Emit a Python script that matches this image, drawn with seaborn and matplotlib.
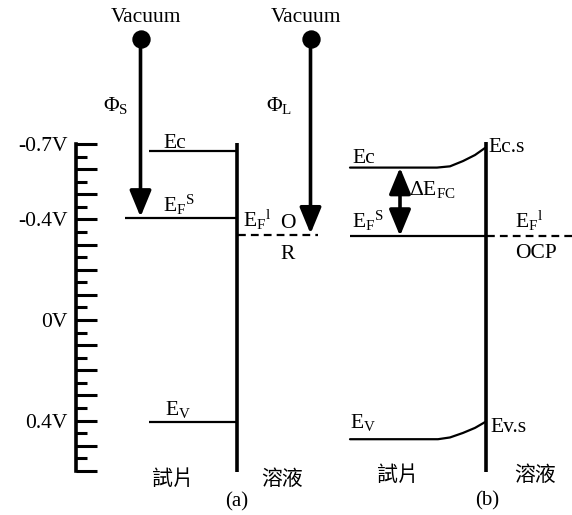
import numpy as np
import pandas as pd
import seaborn as sns
import matplotlib.pyplot as plt

sns.set_style('white', rc={'axes.edgecolor': 'black', 'text.color': 'black',
                           'ytick.color': 'black', 'xtick.color': 'black'})
plt.rcParams['font.family'] = ['Liberation Serif', 'Noto Sans CJK TC', 'DejaVu Sans']
plt.rcParams['mathtext.fontset'] = 'custom'
plt.rcParams['mathtext.rm'] = 'Liberation Serif'
plt.rcParams['mathtext.it'] = 'Liberation Serif:italic'
plt.rcParams['mathtext.bf'] = 'Liberation Serif:bold'

# potential ruler (V)
major_ticks = [-0.7, -0.6, -0.5, -0.4, -0.3, -0.2, -0.1, 0.0, 0.1, 0.2, 0.3, 0.4, 0.5, 0.6]
minor_ticks = [-0.65, -0.55, -0.45, -0.35, -0.25, -0.15, -0.05,
               0.05, 0.15, 0.25, 0.35, 0.45, 0.55]
tick_text = ['-0.7V', '', '', '-0.4V', '', '', '', '0V', '', '', '', '0.4V', '', '']

# panel (a) levels (V)
vacuum_a = -1.116
ec_a = -0.673
efs_a = -0.405
efl_a = -0.338
ev_a = 0.406
electrode_a = [-0.704, 0.604]

ec_b_x = [350, 437, 450, 463, 475, 485]
ec_b_v = [-0.606, -0.606, -0.611, -0.632, -0.656, -0.684]
ev_b_x = [350, 438, 450, 463, 475, 485]
ev_b_v = [0.474, 0.474, 0.467, 0.449, 0.429, 0.406]
efs_b = -0.334
electrode_b = [-0.708, 0.604]


def py(y):
    # label placement helper: picture row -> volts
    return (y - 320) / 251.5


fig = plt.figure(figsize=(5.72, 5.15), dpi=100)
ax = fig.add_axes([0, 0, 1, 1])
ax.set_xlim(0, 572)
ax.set_ylim(py(515), py(0))

# ruler as the y axis
for s in ['top', 'right', 'bottom']:
    ax.spines[s].set_visible(False)
ax.spines['left'].set_position(('data', 76))
ax.spines['left'].set_bounds(major_ticks[0], major_ticks[-1])
ax.spines['left'].set_linewidth(2.6)
ax.set_xticks([])
ax.set_yticks(major_ticks)
ax.set_yticklabels(tick_text)
ax.set_yticks(minor_ticks, minor=True)
ax.tick_params(axis='y', which='major', left=True, direction='in', length=15,
               width=2.2, pad=6, labelsize=15.5)
ax.tick_params(axis='y', which='minor', left=True, direction='in', length=8, width=2.2)

lw = 1.6
k = 'black'

# panel (a)
ax.vlines(236.5, electrode_a[0], electrode_a[1], color=k, lw=2.6)
ax.hlines(ec_a, 149, 236.5, color=k, lw=lw)
ax.hlines(efs_a, 125, 236.5, color=k, lw=lw)
ax.hlines(ev_a, 149, 236.5, color=k, lw=lw)
ax.hlines(efl_a, 238, 318, color=k, lw=lw, linestyles=(0, (3.5, 2.3)))

# panel (b)
ax.vlines(485.5, electrode_b[0], electrode_b[1], color=k, lw=2.6)
sns.lineplot(x=ec_b_x, y=ec_b_v, color=k, lw=lw, ax=ax, sort=False)
sns.lineplot(x=ev_b_x, y=ev_b_v, color=k, lw=lw, ax=ax, sort=False)
ax.hlines(efs_b, 350, 485.5, color=k, lw=lw)
ax.hlines(efs_b, 487, 572, color=k, lw=lw, linestyles=(0, (3.5, 2.3)))

# vacuum dots and work function arrows
sns.scatterplot(x=[140.5, 310.5], y=[vacuum_a, vacuum_a], s=175, color=k,
                edgecolor=k, linewidth=0, ax=ax, zorder=5)
arrow = dict(arrowstyle='-|>,head_length=0.8,head_width=0.33', lw=2.6, color=k,
             mutation_scale=20, shrinkA=0, shrinkB=0)
ax.annotate('', xy=(140.5, efs_a - 0.005), xytext=(140.5, vacuum_a), arrowprops=arrow)
ax.annotate('', xy=(310.5, efl_a - 0.005), xytext=(310.5, vacuum_a), arrowprops=arrow)
darrow = dict(arrowstyle='<|-|>,head_length=0.8,head_width=0.33', lw=2.6, color=k,
              mutation_scale=20, shrinkA=0, shrinkB=0)
ax.annotate('', xy=(400, efs_b), xytext=(400, ec_b_v[0]), arrowprops=darrow)

fs = 15.5
txt = dict(fontsize=fs, color=k)
ax.text(146, py(17), 'Vacuum', ha='center', va='center', **txt)
ax.text(306, py(17), 'Vacuum', ha='center', va='center', **txt)
ax.text(103, py(111), r'$\mathrm{\Phi_S}$', ha='left', va='baseline', **txt)
ax.text(266, py(111), r'$\mathrm{\Phi_L}$', ha='left', va='baseline', **txt)
ax.text(163, py(148), 'Ec', ha='left', va='baseline', **txt)
ax.text(163, py(212), r'$\mathrm{E_F{}^S}$', ha='left', va='baseline', **txt)
ax.text(243, py(227), r'$\mathrm{E_F{}^l}$', ha='left', va='baseline', **txt)
ax.text(280, py(228), 'O', ha='left', va='baseline', **txt)
ax.text(280, py(259), 'R', ha='left', va='baseline', **txt)
ax.text(165, py(415), r'$\mathrm{E_V}$', ha='left', va='baseline', **txt)

ax.text(352, py(163), 'Ec', ha='left', va='baseline', **txt)
ax.text(488, py(152), 'Ec.s', ha='left', va='baseline', **txt)
ax.text(409, py(195), r'$\mathrm{\Delta E_{FC}}$', ha='left', va='baseline', **txt)
ax.text(352, py(228), r'$\mathrm{E_F{}^S}$', ha='left', va='baseline', **txt)
ax.text(515, py(228), r'$\mathrm{E_F{}^l}$', ha='left', va='baseline', **txt)
ax.text(515, py(258), 'OCP', ha='left', va='baseline', **txt)
ax.text(350, py(428), r'$\mathrm{E_V}$', ha='left', va='baseline', **txt)
ax.text(490, py(432), 'Ev.s', ha='left', va='baseline', **txt)

cjk = dict(fontsize=15, color=k, ha='center', va='center')
ax.text(173, py(480), '試片', **cjk)
ax.text(282, py(480), '溶液', **cjk)
ax.text(398, py(476), '試片', **cjk)
ax.text(535, py(476), '溶液', **cjk)
ax.text(237, py(502), '(a)', fontsize=15, ha='center', va='center')
ax.text(487, py(501), '(b)', fontsize=15, ha='center', va='center')

fig.savefig('out.png', dpi=100, facecolor='white')
